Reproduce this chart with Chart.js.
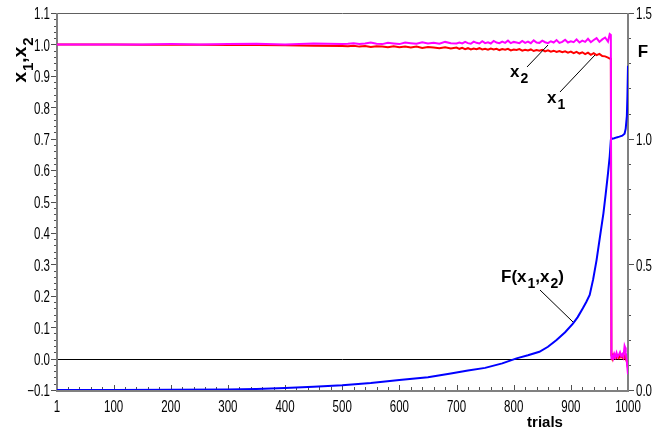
<!DOCTYPE html>
<html>
<head>
<meta charset="utf-8">
<script src="https://cdn.jsdelivr.net/npm/chart.js@4/dist/chart.umd.min.js"></script>
<style>
  body { margin: 0; background: #fff; }
  canvas { display: block; }
</style>
</head>
<body>
<canvas id="trialsChart" width="660" height="430"></canvas>
<script>
// tick labels
const trialTicks = [1, 100, 200, 300, 400, 500, 600, 700, 800, 900, 1000];
const leftTicks = [-0.1, 0.0, 0.1, 0.2, 0.3, 0.4, 0.5, 0.6, 0.7, 0.8, 0.9, 1.0, 1.1];
const rightTicks = [0.0, 0.5, 1.0, 1.5];

// x1 / x2 per trial
const trialsX = [
  1, 50, 100, 150, 200, 250, 300, 350, 400, 450, 500,
  510, 520, 530, 540, 550, 560, 570, 580, 590, 600,
  610, 620, 630, 640, 650, 660, 670, 680, 690, 700,
  705, 710, 715, 720, 725, 730, 735, 740, 745, 750,
  755, 760, 765, 770, 775, 780, 785, 790, 795, 800,
  805, 810, 815, 820, 825, 830, 835, 840, 845, 850,
  855, 860, 865, 870, 875, 880, 885, 890, 895, 900,
  905, 910, 915, 920, 925, 930, 935, 940, 945, 950,
  955, 960, 965, 968, 970,
  971, 972, 974, 976, 978, 980, 982, 984, 986, 988,
  990, 992, 994, 995, 996, 998, 1000
];
const x1Vals = [
  1.000, 1.000, 1.000, 0.999, 0.999, 0.999, 0.998, 0.998, 0.997, 0.996, 0.995,
  0.994, 0.996, 0.993, 0.995, 0.992, 0.994, 0.993, 0.991, 0.994, 0.991,
  0.993, 0.990, 0.993, 0.989, 0.992, 0.990, 0.988, 0.991, 0.987, 0.990,
  0.986, 0.989, 0.985, 0.988, 0.984, 0.987, 0.985, 0.988, 0.984, 0.986,
  0.983, 0.987, 0.984, 0.986, 0.982, 0.985, 0.983, 0.986, 0.981, 0.984,
  0.982, 0.985, 0.980, 0.983, 0.981, 0.984, 0.979, 0.982, 0.980, 0.983,
  0.978, 0.981, 0.977, 0.980, 0.976, 0.979, 0.975, 0.978, 0.974, 0.977,
  0.972, 0.976, 0.971, 0.975, 0.969, 0.974, 0.967, 0.972, 0.966, 0.970,
  0.963, 0.962, 0.958, 0.955, 0.954,
  0.010, 0.005, 0.012, 0.004, 0.010, 0.003, 0.008, 0.002, 0.010, 0.004,
  0.006, 0.000, 0.004, 0.010, 0.000, -0.010, -0.030
];
const x2Vals = [
  1.000, 1.000, 1.000, 1.000, 1.001, 1.000, 1.001, 1.002, 1.000, 1.003, 1.001,
  1.002, 1.004, 1.001, 1.003, 1.006, 1.002, 1.001, 1.005, 1.003, 1.001,
  1.006, 1.004, 1.002, 1.007, 1.003, 1.005, 1.002, 1.008, 1.004, 1.003,
  1.006, 1.003, 1.008, 1.004, 1.002, 1.009, 1.005, 1.003, 1.010, 1.004,
  1.007, 1.003, 1.011, 1.006, 1.004, 1.009, 1.005, 1.012, 1.004, 1.008,
  1.006, 1.004, 1.011, 1.005, 1.009, 1.004, 1.013, 1.006, 1.005, 1.012,
  1.007, 1.004, 1.010, 1.006, 1.014, 1.005, 1.008, 1.015, 1.006, 1.010,
  1.007, 1.016, 1.006, 1.012, 1.008, 1.018, 1.007, 1.014, 1.020, 1.008,
  1.016, 1.022, 1.009, 1.033, 1.030,
  0.000, 0.010, 0.000, 0.015, 0.005, 0.018, 0.006, 0.012, 0.020, 0.008,
  0.014, 0.005, 0.040, 0.035, 0.020, -0.010, -0.050
];

// F(x1,x2) on the right axis
const trialsF = [
  1, 100, 200, 300, 350, 400, 450, 500, 550, 600,
  650, 690, 720, 750, 780, 805, 825, 845, 860, 875,
  890, 904, 912, 921, 927, 933, 939, 945, 951, 957,
  961, 965, 968, 970, 972, 976, 980, 985, 990, 994,
  996, 998, 999, 1000
];
const fVals = [
  0.000, 0.000, 0.001, 0.002, 0.004, 0.008, 0.013, 0.019, 0.028, 0.040,
  0.051, 0.066, 0.078, 0.088, 0.106, 0.126, 0.138, 0.152, 0.172, 0.199,
  0.230, 0.265, 0.290, 0.325, 0.350, 0.378, 0.440, 0.517, 0.610, 0.703,
  0.780, 0.862, 0.930, 0.995, 1.000, 1.002, 1.005, 1.008, 1.012, 1.020,
  1.040, 1.090, 1.170, 1.290
];

const tickFamily = '"Liberation Sans", Arial, sans-serif';
const boldFamily = '"Liberation Sans", Arial, sans-serif';

const pairs = (xs, ys) => xs.map((x, i) => ({ x: x, y: ys[i] }));
const fmt = v => Math.abs(v) < 1e-9 ? '0.0' : (v < 0 ? '\u2212' + (-v).toFixed(1) : v.toFixed(1));

// condensed tick label, like the narrow font of the original
function narrowText(ctx, text, x, y, align) {
  ctx.save();
  ctx.translate(x, y);
  ctx.scale(0.72, 1);
  ctx.font = '16px ' + tickFamily;
  ctx.fillStyle = '#000';
  ctx.textAlign = align;
  ctx.textBaseline = 'middle';
  ctx.fillText(text, 0, 0);
  ctx.restore();
}

// text with subscripts: parts = [[text, isSub], ...]
function richWidth(ctx, parts, size) {
  let w = 0;
  parts.forEach(([t, sub]) => {
    ctx.font = 'bold ' + (sub ? Math.round(size * 0.8) : size) + 'px ' + boldFamily;
    w += ctx.measureText(t).width + (sub ? 1 : 0);
  });
  return w;
}
function richText(ctx, x, y, parts, size) {
  let cx = x;
  ctx.fillStyle = '#000';
  ctx.textBaseline = 'alphabetic';
  ctx.textAlign = 'left';
  parts.forEach(([t, sub]) => {
    ctx.font = 'bold ' + (sub ? Math.round(size * 0.8) : size) + 'px ' + boldFamily;
    ctx.fillText(t, cx + (sub ? 1 : 0), sub ? y + size * 0.35 : y);
    cx += ctx.measureText(t).width + (sub ? 1 : 0);
  });
}
function leader(ctx, x0, y0, x1, y1) {
  ctx.strokeStyle = '#000';
  ctx.lineWidth = 1;
  ctx.beginPath();
  ctx.moveTo(x0, y0);
  ctx.lineTo(x1, y1);
  ctx.stroke();
}

const framePlugin = {
  id: 'frame',
  beforeDatasetsDraw(chart) {
    const ctx = chart.ctx;
    const a = chart.chartArea;
    const sx = chart.scales.x, sy = chart.scales.y, sf = chart.scales.yF;
    ctx.save();
    // zero line
    const y0 = Math.round(sy.getPixelForValue(0)) + 0.5;
    ctx.strokeStyle = '#000';
    ctx.lineWidth = 1;
    ctx.beginPath();
    ctx.moveTo(a.left, y0);
    ctx.lineTo(a.right, y0);
    ctx.stroke();
    // top border
    ctx.strokeStyle = '#606060';
    ctx.beginPath();
    ctx.moveTo(a.left, a.top + 0.5);
    ctx.lineTo(a.right, a.top + 0.5);
    ctx.stroke();
    // axis lines
    ctx.strokeStyle = '#808080';
    ctx.lineWidth = 2;
    ctx.beginPath();
    ctx.moveTo(a.left, a.top);
    ctx.lineTo(a.left, a.bottom + 1);
    ctx.lineTo(a.right, a.bottom + 1);
    ctx.lineTo(a.right, a.top);
    ctx.stroke();
    // tick marks
    ctx.strokeStyle = '#505050';
    ctx.lineWidth = 1;
    ctx.beginPath();
    for (let v = -0.1; v <= 1.1001; v += 0.02) {
      const p = Math.round(sy.getPixelForValue(v)) + 0.5;
      const major = Math.abs(v * 10 - Math.round(v * 10)) < 1e-6;
      ctx.moveTo(a.left - 1, p);
      ctx.lineTo(a.left - (major ? 6 : 3), p);
    }
    for (let v = 0; v <= 1.5001; v += 0.1) {
      const p = Math.round(sf.getPixelForValue(v)) + 0.5;
      const major = Math.abs(v * 2 - Math.round(v * 2)) < 1e-6;
      ctx.moveTo(a.right + 1, p);
      ctx.lineTo(a.right + (major ? 6 : 3), p);
    }
    for (let t = 20; t < 1000; t += 20) {
      const p = Math.round(sx.getPixelForValue(t)) + 0.5;
      const major = t % 100 === 0;
      ctx.moveTo(p, a.bottom);
      ctx.lineTo(p, a.bottom - (major ? 5 : 3));
    }
    ctx.stroke();
    ctx.restore();
  },
  afterDraw(chart) {
    const ctx = chart.ctx;
    const a = chart.chartArea;
    const sx = chart.scales.x, sy = chart.scales.y, sf = chart.scales.yF;
    ctx.save();
    // tick labels at the scales' own tick positions
    sy.ticks.forEach(t => narrowText(ctx, fmt(t.value), a.left - 7, sy.getPixelForValue(t.value) + 2, 'right'));
    sf.ticks.forEach(t => narrowText(ctx, fmt(t.value), a.right + 8, sf.getPixelForValue(t.value) + 2, 'left'));
    sx.ticks.forEach(t => narrowText(ctx, String(t.value), sx.getPixelForValue(t.value), a.bottom + 18, 'center'));
    // axis titles
    ctx.save();
    ctx.translate(26, 60);
    ctx.rotate(-Math.PI / 2);
    const tparts = [['x', false], ['1', true], [',', false], ['x', false], ['2', true]];
    richText(ctx, -richWidth(ctx, tparts, 19) / 2, 0, tparts, 19);
    ctx.restore();
    ctx.font = 'bold 17px ' + boldFamily;
    ctx.fillStyle = '#000';
    ctx.textAlign = 'center';
    ctx.textBaseline = 'alphabetic';
    ctx.fillText('F', 643, 57);
    ctx.font = 'bold 15px ' + boldFamily;
    ctx.fillText('trials', 545, 427);
    // series labels
    richText(ctx, 510, 77, [['x', false], ['2', true]], 17);
    leader(ctx, 527, 67, 548, 45);
    richText(ctx, 547, 103, [['x', false], ['1', true]], 17);
    leader(ctx, 560, 92, 595, 55);
    richText(ctx, 501, 282, [['F(', false], ['x', false], ['1', true], [',', false], ['x', false], ['2', true], [')', false]], 17);
    leader(ctx, 540, 290, 573, 322);
    ctx.restore();
  }
};

new Chart(document.getElementById('trialsChart'), {
  type: 'line',
  data: {
    datasets: [
      {
        label: 'x2',
        data: pairs(trialsX, x2Vals),
        borderColor: '#ff00ff',
        borderWidth: 2,
        yAxisID: 'y'
      },
      {
        label: 'x1',
        data: pairs(trialsX, x1Vals),
        borderColor: '#ff0000',
        borderWidth: 2,
        yAxisID: 'y'
      },
      {
        label: 'F(x1,x2)',
        data: pairs(trialsF, fVals),
        borderColor: '#0000ff',
        borderWidth: 2,
        yAxisID: 'yF'
      }
    ]
  },
  options: {
    responsive: false,
    animation: false,
    layout: { padding: { top: 13, left: 0, right: 0, bottom: 0 } },
    elements: { point: { radius: 0 }, line: { tension: 0, fill: false } },
    plugins: { legend: { display: false }, tooltip: { enabled: false } },
    scales: {
      x: {
        type: 'linear',
        min: 1,
        max: 1000,
        afterBuildTicks: s => { s.ticks = trialTicks.map(v => ({ value: v })); },
        afterFit: s => { s.height = 40; },
        grid: { display: false, drawTicks: false },
        border: { display: false },
        ticks: { display: false }
      },
      y: {
        position: 'left',
        min: -0.1,
        max: 1.1,
        afterBuildTicks: s => { s.ticks = leftTicks.map(v => ({ value: v })); },
        afterFit: s => { s.width = 57; },
        grid: { display: false, drawTicks: false },
        border: { display: false },
        ticks: { display: false }
      },
      yF: {
        position: 'right',
        min: 0,
        max: 1.5,
        afterBuildTicks: s => { s.ticks = rightTicks.map(v => ({ value: v })); },
        afterFit: s => { s.width = 32; },
        grid: { display: false, drawTicks: false },
        border: { display: false },
        ticks: { display: false }
      }
    }
  },
  plugins: [framePlugin]
});
</script>
</body>
</html>
